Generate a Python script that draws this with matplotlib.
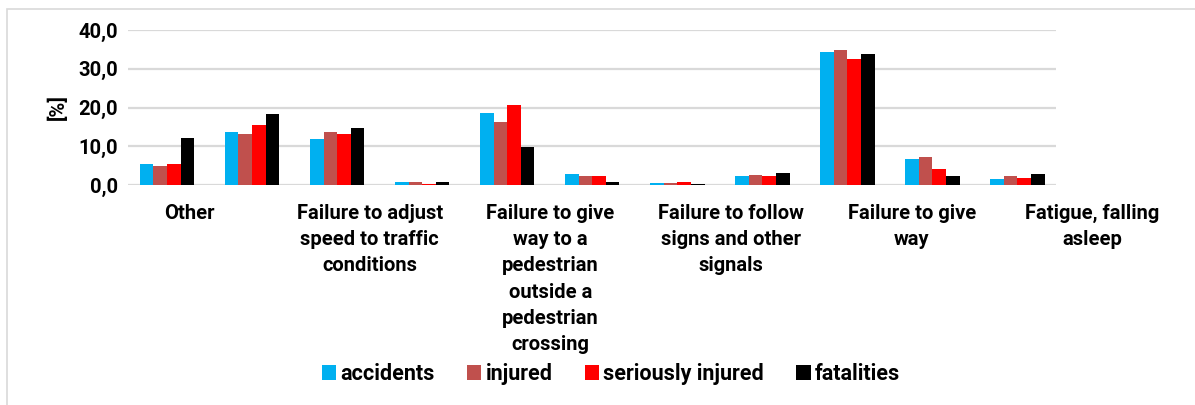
import numpy as np
import matplotlib.pyplot as plt
from matplotlib.patches import Rectangle
import matplotlib.transforms as mtransforms

categories = ['Other', '', 'Failure to adjust\nspeed to traffic\nconditions', '',
              'Failure to give\nway to a\npedestrian\noutside a\npedestrian\ncrossing', '',
              'Failure to follow\nsigns and other\nsignals', '',
              'Failure to give\nway', '', 'Fatigue, falling\nasleep']
accidents = [5.5, 13.6, 11.8, 0.9, 18.7, 2.8, 0.5, 2.4, 34.2, 6.7, 1.5]
injured = [5.0, 13.2, 13.8, 0.7, 16.2, 2.4, 0.6, 2.6, 34.9, 7.2, 2.3]
seriously_injured = [5.4, 15.4, 13.1, 0.3, 20.6, 2.2, 0.8, 2.3, 32.4, 4.1, 1.9]
fatalities = [12.2, 18.4, 14.7, 0.7, 9.8, 0.7, 0.3, 3.1, 33.7, 2.3, 2.8]

series = ['accidents', 'injured', 'seriously injured', 'fatalities']
colors = ['#00B0F0', '#C0504D', '#FF0000', '#000000']

plt.rcParams['font.family'] = ['Roboto', 'DejaVu Sans']
plt.rcParams['font.weight'] = 'bold'

W, H = 1195, 405
fig = plt.figure(figsize=(W / 100, H / 100), dpi=100)
# chart area border (cut off at right and bottom like the reference)
fig.patches.append(Rectangle((7 / W, -0.1), 1.2, 1 - 9 / H + 0.1, transform=fig.transFigure,
                             fill=False, edgecolor='#d9d9d9', linewidth=1.2))

ax = fig.add_axes([128 / W, (H - 185) / H, (1056 - 128) / W, (185 - 30) / H])
x = np.arange(len(categories))
bw = 0.16
for k, (vals, col, name) in enumerate(zip([accidents, injured, seriously_injured, fatalities],
                                          colors, series)):
    ax.bar(x + (k - 1.5) * bw, vals, bw, color=col, label=name, zorder=3)

ax.set_xlim(-0.459, 10.453)
ax.set_ylim(0, 40)
ax.set_yticks([0, 10, 20, 30, 40])
ax.set_yticklabels([f'{v:.1f}'.replace('.', ',') for v in [0, 10, 20, 30, 40]],
                   fontsize=14.5, fontweight='bold')
ax.tick_params(axis='y', length=0, pad=7)
ax.set_xticks([])
ax.grid(axis='y', color='#d9d9d9', linewidth=1.6, zorder=0)
for s in ax.spines.values():
    s.set_visible(False)
ax.set_ylabel('[%]', fontsize=14.5, fontweight='bold', labelpad=8)

# category labels spread wider than the groups, like Excel does
trans = mtransforms.blended_transform_factory(ax.transData, fig.transFigure)
for i, lab in enumerate(categories):
    if lab:
        ax.text(i * 1.062 + 0.26, (H - 204) / H, lab, transform=trans, ha='center', va='top',
                fontsize=14.5, fontweight='bold', linespacing=1.48, clip_on=False)

leg = fig.legend(loc='center', bbox_to_anchor=(611 / W, (H - 374) / H), ncol=4, frameon=False,
                 fontsize=15.5, handlelength=0.66, handleheight=0.66, handletextpad=0.2,
                 columnspacing=1.5)
for t in leg.get_texts():
    t.set_fontweight('bold')

fig.savefig('out.png', dpi=100)
